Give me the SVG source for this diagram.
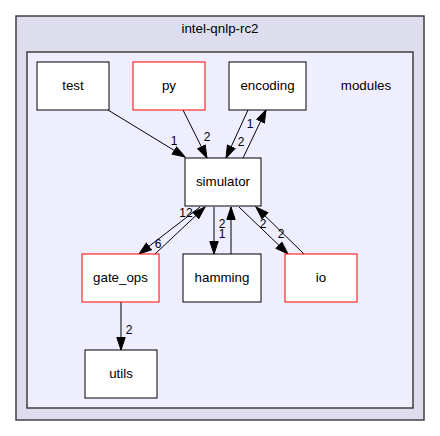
<svg xmlns="http://www.w3.org/2000/svg" width="440" height="436" viewBox="0 0 440 436">
<style>
text{font-family:"Liberation Sans",Arial,sans-serif;font-size:13.33px;fill:#000}
.n rect{fill:#fff;stroke:#000;stroke-width:1}
.n.r rect{stroke:#ff0000}
.n text{text-anchor:middle}
.e path{fill:none;stroke:#000;stroke-width:1;marker-end:url(#ah)}
.e text{text-anchor:middle;font-size:12px}
</style>
<defs>
<marker id="ah" markerWidth="14" markerHeight="10" refX="13" refY="4.7" orient="auto" markerUnits="userSpaceOnUse" viewBox="0 0 14 9.4">
<path d="M0.5,0.5 L13,4.7 L0.5,8.9 z" fill="#000" stroke="#000" stroke-width="1"/>
</marker>
</defs>
<rect width="440" height="436" fill="#fff"/>
<g id="cluster-outer">
<rect x="16" y="16" width="408" height="404" fill="#ddddee" stroke="#404040" stroke-width="1.5"/>
<text x="220" y="33" text-anchor="middle">intel-qnlp-rc2</text>
</g>
<g id="cluster-modules">
<rect x="27" y="52" width="386" height="356" fill="#eeeeff" stroke="#404040" stroke-width="1.5"/>
<text x="366" y="90" text-anchor="middle">modules</text>
</g>
<g id="connectors" class="e">
<path d="M108,110 L185,157"/><text x="174" y="145">1</text>
<path d="M183,110 L207,158"/><text x="207" y="141">2</text>
<path d="M248,110 L226,158"/><text x="241" y="146">2</text>
<path d="M243,158 L266,110"/><text x="250" y="128">1</text>
<path d="M200,207 L139,254"/><text x="158" y="248">6</text>
<path d="M155,254 L205,207"/><text x="186" y="217">12</text>
<path d="M214,207 L214,254"/><text x="222" y="228">2</text>
<path d="M231,254 L231,207"/><text x="222" y="238">1</text>
<path d="M239,207 L288,254"/><text x="263" y="228">2</text>
<path d="M304,254 L256,207"/><text x="281" y="238">2</text>
<path d="M121,302 L121,350"/><text x="129" y="334">2</text>
</g>
<g id="test" class="n"><rect x="37" y="62" width="72" height="48"/><text x="73" y="90">test</text></g>
<g id="py" class="n r"><rect x="133" y="62" width="72" height="48"/><text x="169" y="90">py</text></g>
<g id="encoding" class="n"><rect x="229" y="62" width="77" height="48"/><text x="267.5" y="90">encoding</text></g>
<g id="simulator" class="n"><rect x="185" y="158" width="76" height="48"/><text x="223" y="186">simulator</text></g>
<g id="gate_ops" class="n r"><rect x="82" y="254" width="77" height="48"/><text x="120.5" y="282">gate_ops</text></g>
<g id="hamming" class="n"><rect x="183" y="254" width="78" height="48"/><text x="222" y="282">hamming</text></g>
<g id="io" class="n r"><rect x="285" y="254" width="72" height="48"/><text x="321" y="282">io</text></g>
<g id="utils" class="n"><rect x="85" y="350" width="72" height="48"/><text x="121" y="378">utils</text></g>
</svg>
